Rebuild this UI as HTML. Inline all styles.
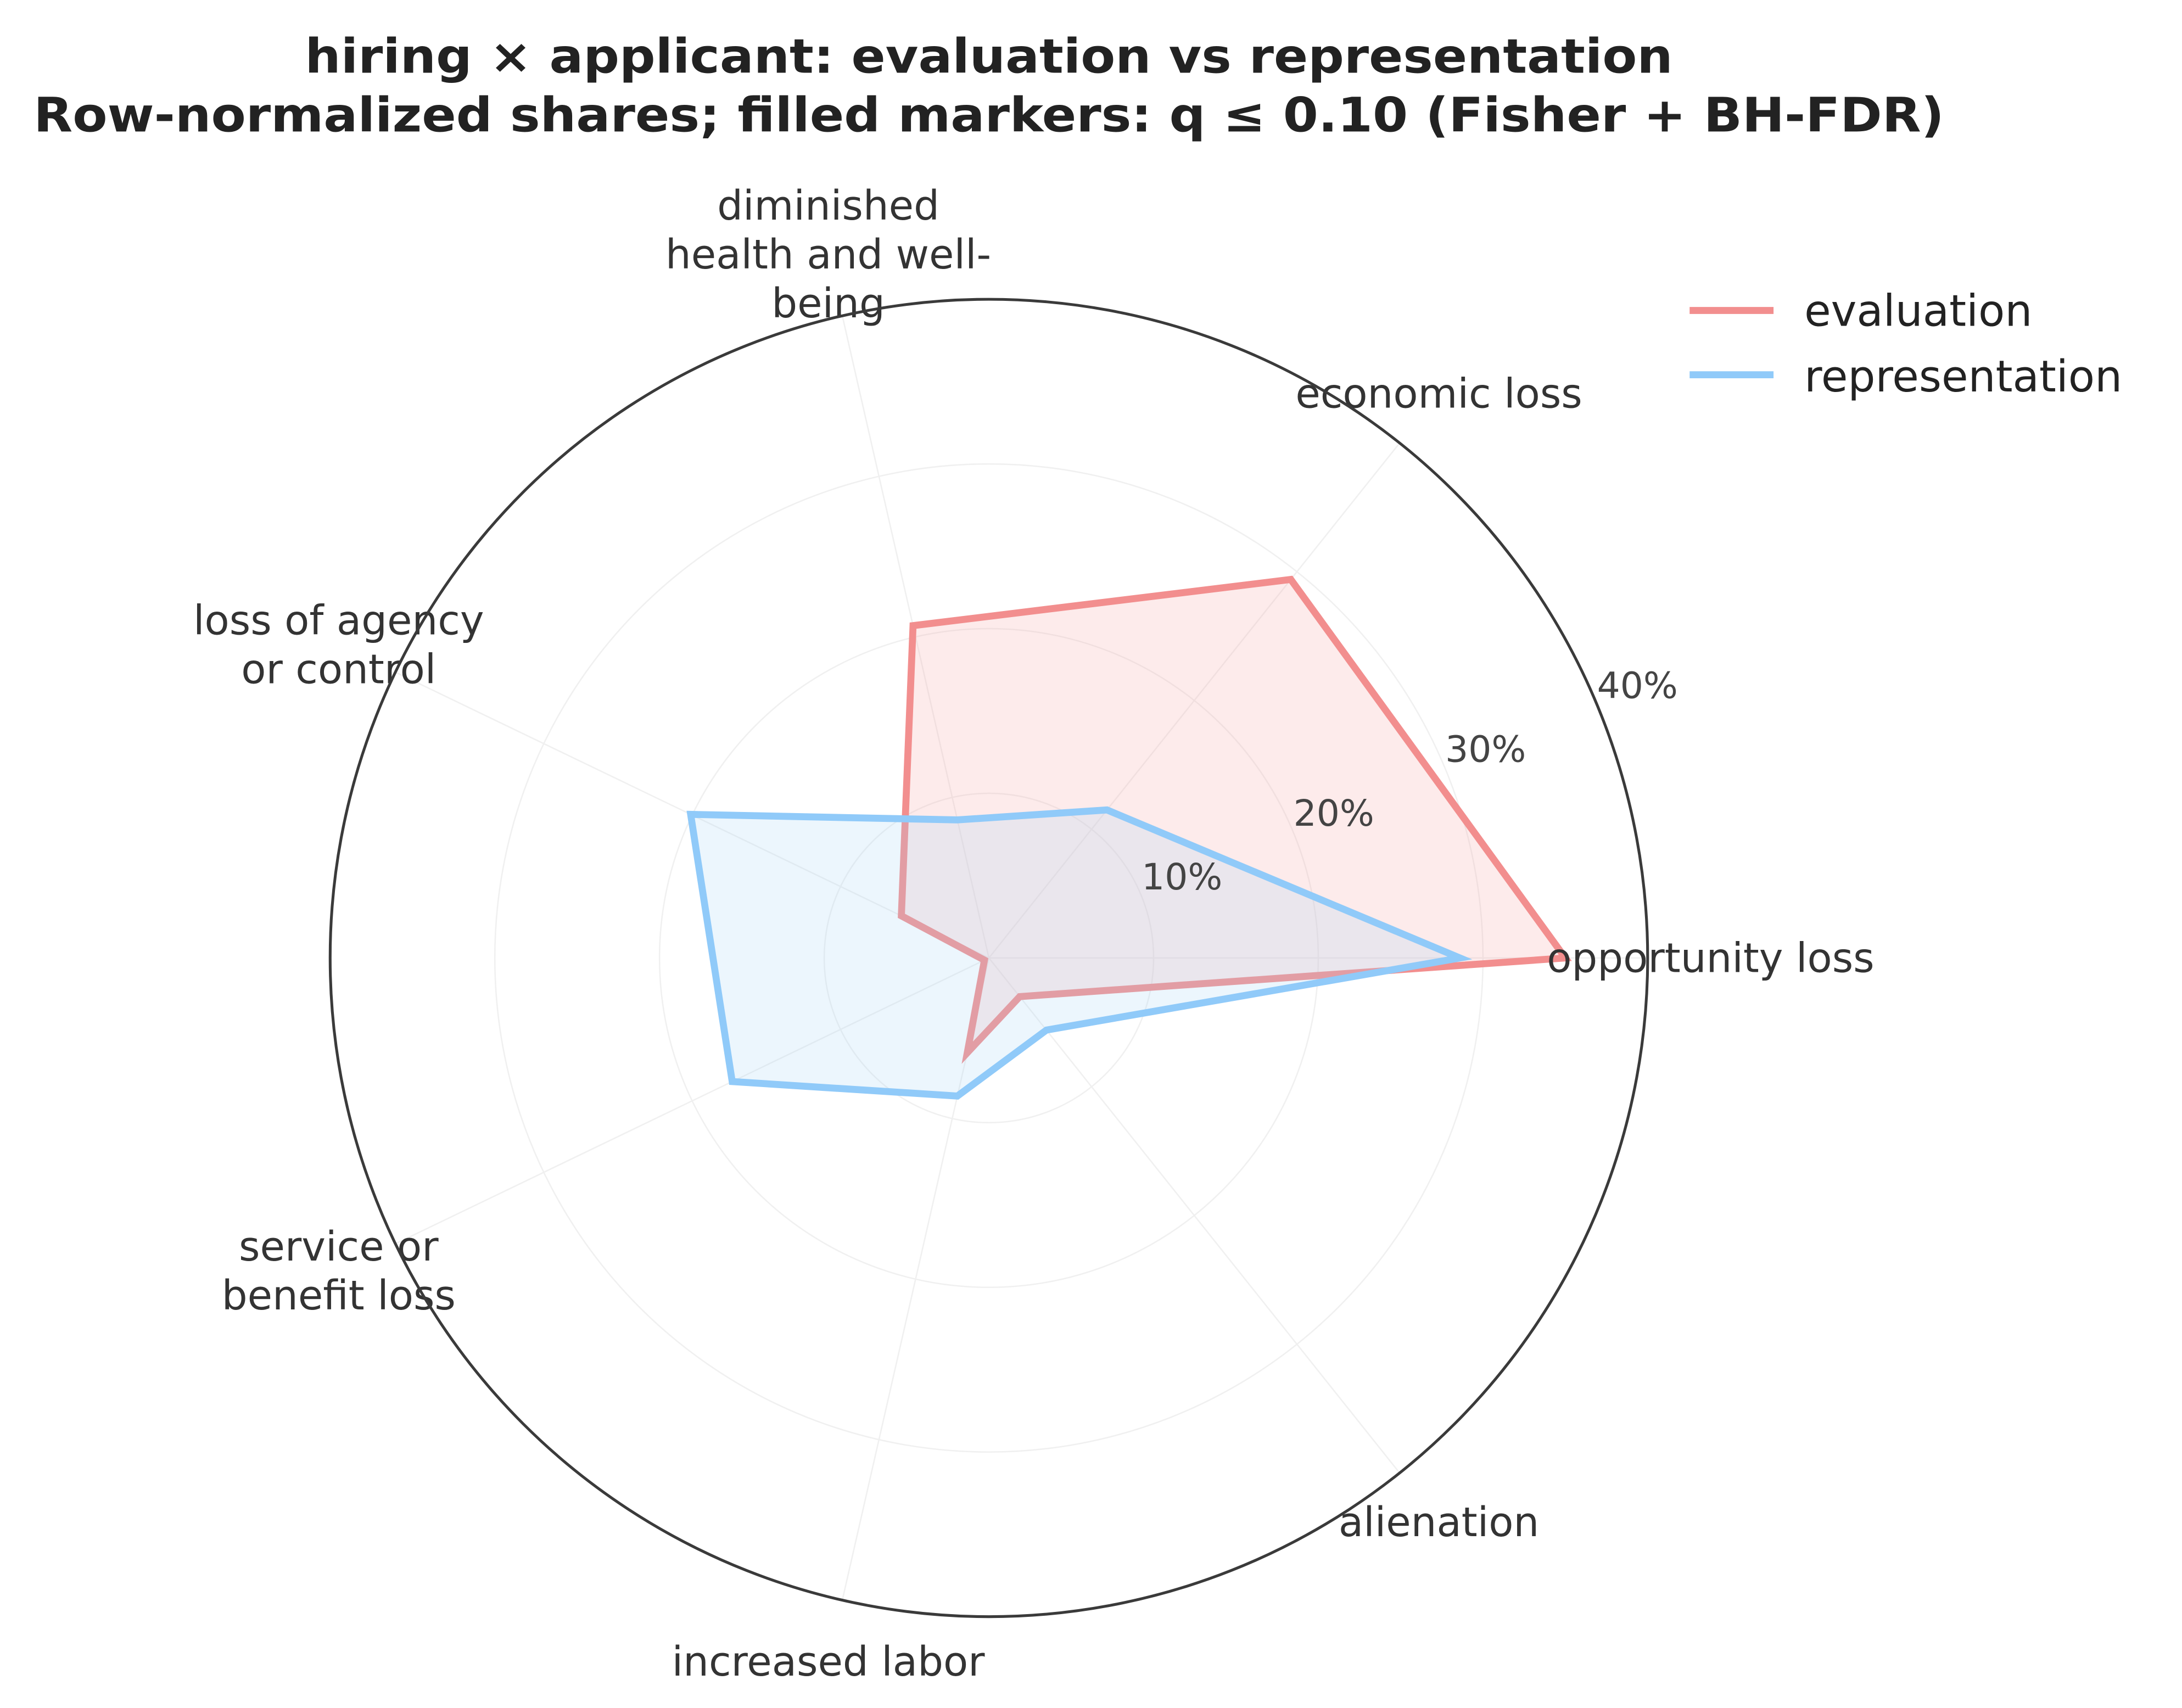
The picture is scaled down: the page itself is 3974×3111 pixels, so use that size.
<!DOCTYPE html>
<html><head><meta charset="utf-8"><style>
html,body{margin:0;padding:0;background:#fff;}
svg{display:block;font-family:"DejaVu Sans","Liberation Sans",sans-serif;}
</style></head><body>
<svg id="chart" width="3974" height="3111" viewBox="0 0 1560 1221.3" xmlns="http://www.w3.org/2000/svg">
<rect width="1560" height="1221.3" fill="#fff"/>
<text x="707" y="52" text-anchor="middle" font-size="34" font-weight="bold" fill="#222" textLength="978" lengthAdjust="spacingAndGlyphs">hiring × applicant: evaluation vs representation</text>
<text x="707" y="94" text-anchor="middle" font-size="34" font-weight="bold" fill="#222" textLength="1366" lengthAdjust="spacingAndGlyphs">Row-normalized shares; filled markers: q ≤ 0.10 (Fisher + BH-FDR)</text>
<g id="grid"></g>
<g id="series"></g>
<g id="labels"></g>
<g>
<line x1="1208" y1="222" x2="1268" y2="222" stroke="#f28e8e" stroke-width="5"/>
<text x="1290" y="233" font-size="31" fill="#222">evaluation</text>
<line x1="1208" y1="268" x2="1268" y2="268" stroke="#90caf9" stroke-width="5"/>
<text x="1290" y="280" font-size="31" fill="#222">representation</text>
</g>
</svg>
<script>
const categories = [["opportunity loss"],["economic loss"],["diminished","health and well-","being"],["loss of agency","or control"],["service or","benefit loss"],["increased labor"],["alienation"]];
const evaluation = [35, 29.4, 20.7, 5.9, 0.3, 5.9, 3.0];
const representation = [28.6, 11.5, 8.6, 20.1, 17.3, 8.6, 5.6];
const ticks = [10, 20, 30, 40];
const tickLabels = ["10%","20%","30%","40%"];
const rMax = 40;

const NS = "http://www.w3.org/2000/svg";
const cx = 707, cy = 685, R = 471;
const n = categories.length;
function ang(i){ return i * 2 * Math.PI / n; }
function rad(v){ return v / rMax * R; }
function pt(i, v){ const a = ang(i), r = rad(v); return [cx + r*Math.cos(a), cy - r*Math.sin(a)]; }
function mk(tag, attrs, parent){ const e = document.createElementNS(NS, tag); for (const k in attrs) e.setAttribute(k, attrs[k]); parent.appendChild(e); return e; }

const grid = document.getElementById('grid');
ticks.forEach((t, k) => {
  if (k < ticks.length - 1) {
    const c = mk('circle', {cx: cx, cy: cy, r: rad(t), fill: 'none', stroke: '#f0f0f0', 'stroke-width': 1}, grid);
    
    
  }
});
for (let i = 0; i < n; i++) {
  const [x, y] = pt(i, rMax);
  const l = mk('line', {x1: cx, y1: cy, x2: x, y2: y, stroke: '#f0f0f0', 'stroke-width': 1}, grid);
  
  
}

const series = document.getElementById('series');
function drawSeries(vals, stroke, fill, name){
  const pts = vals.map((v, i) => pt(i, v).join(',')).join(' ');
  const p = mk('polygon', {points: pts, fill: fill, 'fill-opacity': 0.22, stroke: stroke, 'stroke-width': 5, 'stroke-linejoin': 'miter'}, series);
  
  
}
drawSeries(evaluation, '#f28e8e', '#f7a5a5', 'evaluation-series');
drawSeries(representation, '#90caf9', '#a9d4f5', 'representation-series');

const outer = mk('circle', {cx: cx, cy: cy, r: R, fill: 'none', stroke: '#3a3a3a', 'stroke-width': 2}, grid.parentNode);



const labels = document.getElementById('labels');
const ta = 22.8 * Math.PI / 180;
ticks.forEach((t, k) => {
  const r = rad(t) + 32;
  const tx = mk('text', {x: cx + r*Math.cos(ta), y: cy - r*Math.sin(ta) + 9, 'text-anchor': 'middle', 'font-size': 26, fill: '#444'}, labels);
  tx.textContent = tickLabels[k];
  
  
});
categories.forEach((lines, i) => {
  const a = ang(i), r = 516;
  const x = cx + r*Math.cos(a), y = cy - r*Math.sin(a);
  const lh = 35;
  const y0 = y - (lines.length - 1) * lh / 2 + 10;
  const tx = mk('text', {x: x, y: y0, 'text-anchor': 'middle', 'font-size': 29, fill: '#333'}, labels);
  
  
  lines.forEach((s, j) => {
    const ts = mk('tspan', {x: x, y: y0 + j*lh}, tx);
    ts.textContent = s;
  });
});
</script>
</body></html>
